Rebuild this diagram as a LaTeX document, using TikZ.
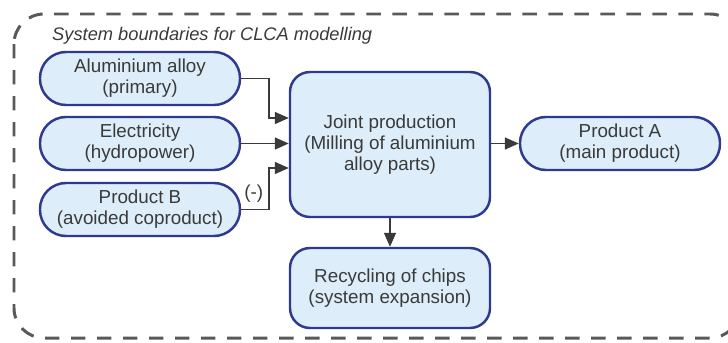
\documentclass[tikz,border=0pt]{standalone}
\usepackage{fontspec}
\setmainfont{Liberation Sans}
\usepackage{xcolor}
\usetikzlibrary{arrows.meta,positioning,calc}

\definecolor{boxfill}{HTML}{DDEEFA}
\definecolor{boxline}{HTML}{2E3A8F}
\definecolor{inktext}{HTML}{3A3A3A}

\begin{document}
\begin{tikzpicture}[
  font=\fontsize{10.7}{12}\selectfont,
  text=inktext,
  >={Triangle[length=2.8mm,width=2.4mm]},
  flow/.style={draw=boxline,line width=1.4pt,fill=boxfill,align=center,inner sep=2pt},
  pill/.style={flow,rounded corners=0.52cm,minimum width=4cm,minimum height=1.06cm},
  unit/.style={flow,rounded corners=0.4cm,minimum width=4cm},
  arrow/.style={->,draw=inktext,line width=0.9pt},
  boundary/.style={draw=black!65,line width=1.7pt,dash pattern=on 8.2pt off 6.6pt,rounded corners=0.6cm}
]
\useasboundingbox (0,0) rectangle (14.56,-6.84);

% system boundary and its caption (right edge runs past the page)
\begin{scope}
\clip (0,0) rectangle (14.56,-6.84);
\draw[boundary] (0.28,-0.28) rectangle (14.8,-6.76);
\end{scope}
\node[anchor=west,font=\fontsize{10.4}{12}\selectfont\itshape] (title) at (0.92,-0.72) {System boundaries for CLCA modelling};

% inputs on the left
\node[pill] (alloy) at (2.8,-1.57) {Aluminium alloy\\(primary)};
\node[pill] (elec) at (2.8,-2.87) {Electricity\\(hydropower)};
\node[pill] (prodb) at (2.8,-4.19) {Product B\\(avoided coproduct)};

% the joint process and what follows from it
\node[unit,minimum height=2.9cm] (joint) at (7.8,-2.89) {Joint production\\(Milling of aluminium\\alloy parts)};
\node[pill] (proda) at (12.4,-2.87) {Product A\\(main product)};
\node[unit,minimum height=1.6cm] (recyc) at (7.8,-5.76) {Recycling of chips\\(system expansion)};

\draw[arrow] (alloy.east) -- ++(0.56,0) |- ([yshift=0.53cm]joint.west);
\draw[arrow] (elec.east) -- (elec.east -| joint.west);
\draw[arrow] (prodb.east) -- node[above,pos=0.45] {(-)} ++(0.56,0) |- ([yshift=-0.47cm]joint.west);
\draw[arrow] (joint.east |- proda.west) -- (proda.west);
\draw[arrow] (joint.south) -- (recyc.north);

\end{tikzpicture}
\end{document}
